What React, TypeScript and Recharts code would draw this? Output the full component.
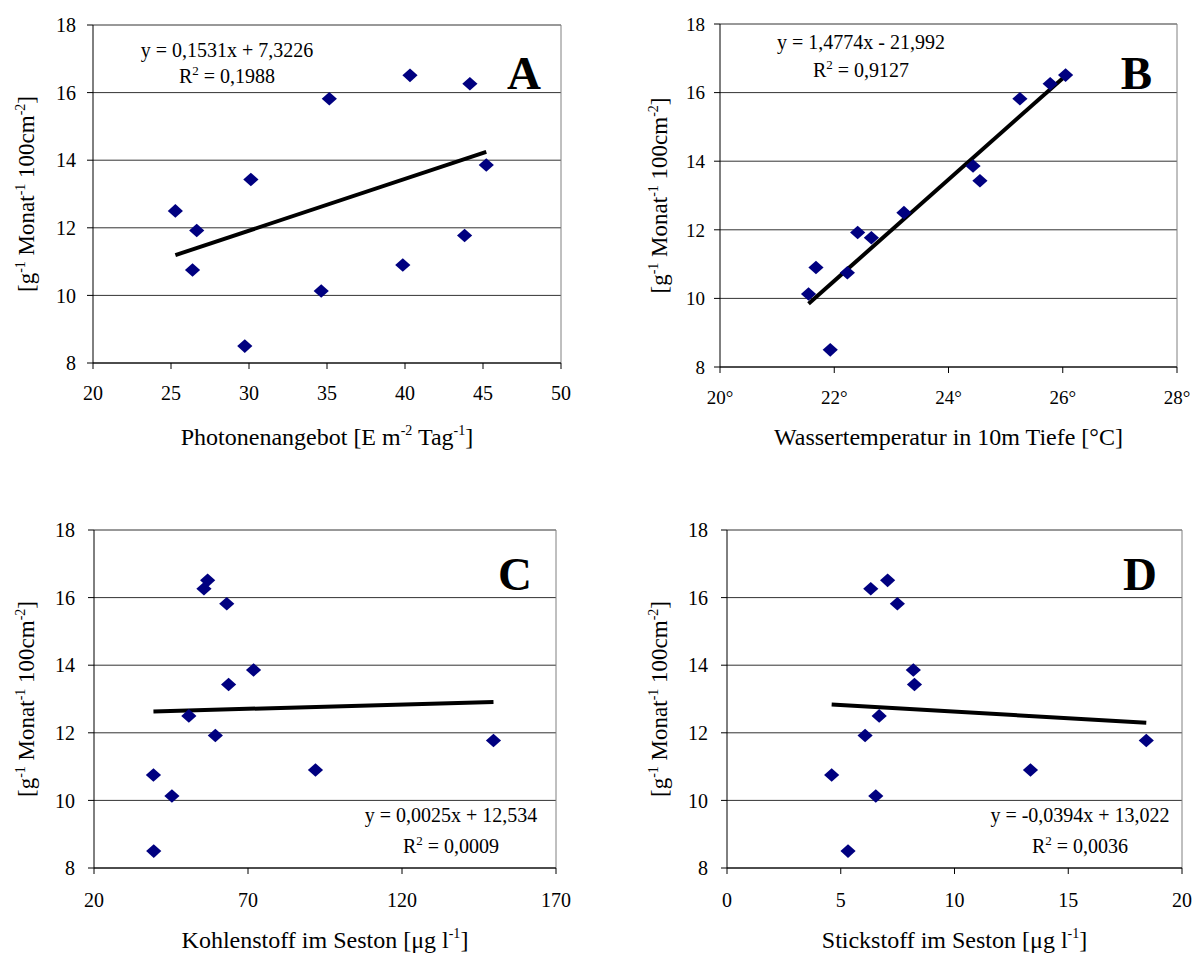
import { ScatterChart, Scatter, XAxis, YAxis, CartesianGrid, ReferenceLine } from 'recharts'

const FONT = "'Liberation Serif', 'Times New Roman', serif"

// growth rate, same 12 samples in every panel
const growth = [8.5, 10.13, 10.75, 10.9, 11.77, 11.92, 12.5, 13.43, 13.86, 15.82, 16.26, 16.51]
const photons = [29.73, 34.63, 26.38, 39.86, 43.82, 26.65, 25.28, 30.12, 45.21, 35.15, 44.16, 40.32]
const waterTemp = [21.93, 21.55, 22.23, 21.68, 22.65, 22.41, 23.22, 24.55, 24.43, 25.25, 25.78, 26.05]
const carbon = [39.4, 45.3, 39.3, 91.9, 149.7, 59.4, 50.8, 63.7, 71.8, 63.1, 55.7, 56.9]
const nitrogen = [5.32, 6.54, 4.6, 13.34, 18.43, 6.07, 6.69, 8.24, 8.19, 7.49, 6.32, 7.06]

const yTicks = [8, 10, 12, 14, 16, 18]
const photonTicks = [20, 25, 30, 35, 40, 45, 50]
const tempTicks = [20, 22, 24, 26, 28]
const carbonTicks = [20, 70, 120, 170]
const nitrogenTicks = [0, 5, 10, 15, 20]

const slopes = [0.1531, 1.4774, 0.0025, -0.0394]
const intercepts = [7.3226, -21.992, 12.534, 13.022]
const equations = ['y = 0,1531x + 7,3226', 'y = 1,4774x - 21,992', 'y = 0,0025x + 12,534', 'y = -0,0394x + 13,022']
const rSquared = ['0,1988', '0,9127', '0,0009', '0,0036']
const letters = ['A', 'B', 'C', 'D']

const Diamond = (props: any) => {
  const { cx, cy } = props
  if (cx == null || cy == null) return null
  return <path d={`M${cx},${cy - 6.8}L${cx + 7.6},${cy}L${cx},${cy + 6.8}L${cx - 7.6},${cy}Z`} fill="#000080" />
}

function YTitle({ x, y }: { x: number; y: number }) {
  return (
    <text x={x} y={y} transform={`rotate(-90 ${x} ${y})`} textAnchor="middle" fontSize={23} fontFamily={FONT} fill="#000">
      [g<tspan dy={-9} fontSize={14}>-1</tspan>
      <tspan dy={9}> Monat</tspan><tspan dy={-9} fontSize={14}>-1</tspan>
      <tspan dy={9}> 100cm</tspan><tspan dy={-9} fontSize={14}>-2</tspan>
      <tspan dy={9}>]</tspan>
    </text>
  )
}

const titles = [
  <>Photonenangebot [E m<tspan dy={-10} fontSize={14}>-2</tspan><tspan dy={10}> Tag</tspan><tspan dy={-10} fontSize={14}>-1</tspan><tspan dy={10}>]</tspan></>,
  <>Wassertemperatur in 10m Tiefe [°C]</>,
  <>Kohlenstoff im Seston [μg l<tspan dy={-10} fontSize={14}>-1</tspan><tspan dy={10}>]</tspan></>,
  <>Stickstoff im Seston [μg l<tspan dy={-10} fontSize={14}>-1</tspan><tspan dy={10}>]</tspan></>,
]

interface Layout {
  left: number; top: number
  plot: [number, number, number, number] // x1, x2, y1, y2 local
  eqX: number; eqY: [number, number]
  letterX: number; letterY: number
  yTitleX: number
  titleY: number
  tickFont: number; xTickMargin: number; yTickMargin: number
}

const layouts: Layout[] = [
  { left: 0, top: 0, plot: [93, 561, 25, 363], eqX: 227, eqY: [57, 83], letterX: 541, letterY: 89, yTitleX: 34, titleY: 445, tickFont: 20, xTickMargin: 17, yTickMargin: 11 },
  { left: 597, top: 0, plot: [123, 580, 24, 367], eqX: 264, eqY: [49, 77], letterX: 555, letterY: 89, yTitleX: 70, titleY: 445, tickFont: 19, xTickMargin: 18, yTickMargin: 9 },
  { left: 0, top: 477, plot: [94, 556, 53, 391], eqX: 451, eqY: [345, 376], letterX: 532, letterY: 113, yTitleX: 34, titleY: 471, tickFont: 20, xTickMargin: 19, yTickMargin: 13 },
  { left: 597, top: 477, plot: [130, 585, 53, 391], eqX: 483, eqY: [345, 376], letterX: 560, letterY: 113, yTitleX: 70, titleY: 471, tickFont: 20, xTickMargin: 19, yTickMargin: 13 },
]

const xSeries = [photons, waterTemp, carbon, nitrogen]
const xTickSets = [photonTicks, tempTicks, carbonTicks, nitrogenTicks]

const W = 597
const H = 477
const Y_AXIS_W = 60
const X_AXIS_H = 40

function Panel({ i }: { i: number }) {
  const L = layouts[i]
  const xs = xSeries[i]
  const ticks = xTickSets[i]
  const data = xs.map((x, k) => ({ x, y: growth[k] }))
  const x0 = Math.min(...xs)
  const x1 = Math.max(...xs)
  const [px1, px2, py1, py2] = L.plot
  const tickStyle = { fontSize: L.tickFont, fontFamily: FONT, fill: '#000' }
  return (
    <div style={{ position: 'absolute', left: L.left, top: L.top, width: W, height: H }}>
      <ScatterChart
        width={W}
        height={H}
        margin={{ top: py1, left: px1 - Y_AXIS_W, right: W - px2, bottom: H - py2 - X_AXIS_H }}
      >
        <CartesianGrid vertical={false} stroke="#333" />
        <XAxis
          type="number"
          dataKey="x"
          domain={[ticks[0], ticks[ticks.length - 1]]}
          ticks={ticks}
          interval={0}
          height={X_AXIS_H}
          tick={tickStyle}
          tickSize={6}
          tickMargin={L.xTickMargin}
          stroke="#000"
          tickFormatter={i === 1 ? (v: number) => `${v}°` : undefined}
        />
        <YAxis
          type="number"
          dataKey="y"
          domain={[8, 18]}
          ticks={yTicks}
          interval={0}
          width={Y_AXIS_W}
          tick={tickStyle}
          tickSize={6}
          tickMargin={L.yTickMargin}
          stroke="#000"
        />
        <ReferenceLine x={ticks[ticks.length - 1]} stroke="#808080" />
        <Scatter data={data} shape={Diamond} isAnimationActive={false} />
        <ReferenceLine
          segment={[
            { x: x0, y: slopes[i] * x0 + intercepts[i] },
            { x: x1, y: slopes[i] * x1 + intercepts[i] },
          ]}
          stroke="#000"
          strokeWidth={4}
        />
      </ScatterChart>
      <svg width={W} height={H} style={{ position: 'absolute', left: 0, top: 0, pointerEvents: 'none' }}>
        <text x={L.eqX} y={L.eqY[0]} textAnchor="middle" fontSize={20} fontFamily={FONT} fill="#000">{equations[i]}</text>
        <text x={L.eqX} y={L.eqY[1]} textAnchor="middle" fontSize={20} fontFamily={FONT} fill="#000">
          R<tspan dy={-8} fontSize={13}>2</tspan><tspan dy={8}> = {rSquared[i]}</tspan>
        </text>
        <text x={L.letterX} y={L.letterY} textAnchor="end" fontSize={47} fontWeight="bold" fontFamily={FONT} fill="#000">{letters[i]}</text>
        <YTitle x={L.yTitleX} y={(py1 + py2) / 2} />
        <text x={(px1 + px2) / 2} y={L.titleY} textAnchor="middle" fontSize={24} fontFamily={FONT} fill="#000">{titles[i]}</text>
      </svg>
    </div>
  )
}

export default function App() {
  return (
    <div style={{ position: 'absolute', left: 0, top: 0, width: 1194, height: 954, background: '#fff', fontFamily: FONT }}>
      {[0, 1, 2, 3].map((i) => <Panel key={i} i={i} />)}
    </div>
  )
}
